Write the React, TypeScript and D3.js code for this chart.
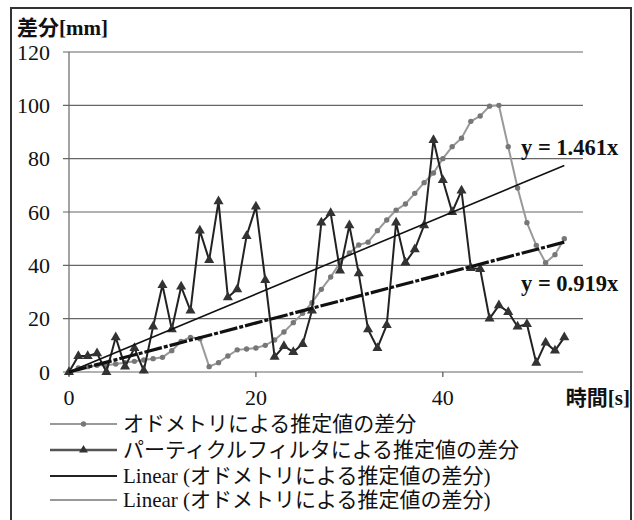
import React from "react";
import * as d3 from "d3";

const times: number[] = d3.range(0, 54);
const odometry: number[] = [
  0, 1.5, 2, 2.5, 2.5, 3, 3.5, 4, 4.5, 5, 5.5, 8, 11.5, 13, 12.5, 2, 3.5, 6, 8.3, 8.6,
  9, 10, 12, 15, 18.5, 22, 26, 31, 35.6, 41, 44.6, 47.6, 48.7, 53, 57, 60.7, 63, 67, 71, 74.6,
  80, 84.5, 87.7, 94, 96, 99.7, 100, 84.5, 69, 56, 47.5, 41, 44, 50,
];
const particle: number[] = [
  0, 6, 6, 7, 0, 13, 2, 9, 0.5, 17, 32.6, 16, 32, 23, 53, 42, 64, 28, 31, 51,
  62, 34.5, 5.7, 9.7, 7.5, 10.5, 23, 56, 59.6, 38, 55, 37, 16, 9, 17.6, 56, 41, 46, 55, 87,
  72, 60, 68, 39, 38.6, 20, 25, 22.5, 17, 18, 3.4, 11, 8, 13,
];
const trendSlopes: number[] = [1.461, 0.919];
const trendLabels: string[] = ["y = 1.461x", "y = 0.919x"];
const yTicks: number[] = [0, 20, 40, 60, 80, 100, 120];
const xTicks: number[] = [0, 20, 40];
const yTitle = "差分[mm]";
const xTitle = "時間[s]";
const legendLabels: string[] = [
  "オドメトリによる推定値の差分",
  "パーティクルフィルタによる推定値の差分",
  "Linear (オドメトリによる推定値の差分)",
  "Linear (オドメトリによる推定値の差分)",
];

const W = 634;
const H = 520;
const FONT = "'Liberation Serif', 'DejaVu Serif', 'Noto Sans CJK JP', serif";

export default function App() {
  const x = d3.scaleLinear().domain([0, 55]).range([69, 583]);
  const y = d3.scaleLinear().domain([0, 120]).range([372, 52]);

  const line = d3
    .line<number>()
    .x((_, i) => x(times[i]))
    .y((d) => y(d));

  const tMax = times[times.length - 1];
  const tri = d3.symbol().type(d3.symbolTriangle).size(44)() as string;
  const triSmall = d3.symbol().type(d3.symbolTriangle).size(34)() as string;

  const legendY = [424, 450, 476, 500];
  const lx0 = 50;
  const lx1 = 117;
  const txt = { fontFamily: FONT, fill: "#111" } as React.CSSProperties;

  return (
    <svg
      width={W}
      height={H}
      style={{ position: "absolute", left: 0, top: 0, background: "#fff" }}
    >
      <rect x={0} y={0} width={W} height={H} fill="#fff" />
      <rect x={11} y={8} width={620} height={520} fill="none" stroke="#333" strokeWidth={2} />

      {/* gridlines */}
      {yTicks.map((t) => (
        <line key={"g" + t} x1={63} x2={x(55)} y1={y(t)} y2={y(t)} stroke="#666" strokeWidth={1.2} />
      ))}
      {/* y axis */}
      <line x1={x(0)} x2={x(0)} y1={y(120)} y2={y(0) + 4} stroke="#666" strokeWidth={1.2} />
      {xTicks.map((t) => (
        <line key={"xt" + t} x1={x(t)} x2={x(t)} y1={y(0)} y2={y(0) + 5} stroke="#555" strokeWidth={1.2} />
      ))}

      {/* y tick labels */}
      {yTicks.map((t) => (
        <text key={"yl" + t} x={50} y={y(t)} dy="0.35em" textAnchor="end" fontSize={22} style={txt}>
          {t}
        </text>
      ))}
      <text x={17} y={35} fontSize={21} fontWeight="bold" style={txt}>
        {yTitle}
      </text>

      {/* x tick labels */}
      {xTicks.map((t) => (
        <text key={"xl" + t} x={x(t)} y={405} textAnchor="middle" fontSize={22} style={txt}>
          {t}
        </text>
      ))}
      <text x={630} y={405} textAnchor="end" fontSize={21} fontWeight="bold" style={txt}>
        {xTitle}
      </text>

      {/* odometry series */}
      <path d={line(odometry) || ""} fill="none" stroke="#999" strokeWidth={2} />
      {odometry.map((v, i) => (
        <circle key={"o" + i} cx={x(times[i])} cy={y(v)} r={2.7} fill="#777" />
      ))}

      {/* particle filter series */}
      <path d={line(particle) || ""} fill="none" stroke="#222" strokeWidth={2} />
      {particle.map((v, i) => (
        <path key={"p" + i} d={tri} transform={`translate(${x(times[i])},${y(v)})`} fill="#333" />
      ))}

      {/* trendlines */}
      <line
        x1={x(0)}
        y1={y(0)}
        x2={x(tMax)}
        y2={y(trendSlopes[0] * tMax)}
        stroke="#111"
        strokeWidth={1.6}
      />
      <line
        x1={x(0)}
        y1={y(0)}
        x2={x(tMax)}
        y2={y(trendSlopes[1] * tMax)}
        stroke="#111"
        strokeWidth={3.2}
        strokeDasharray="18,2,4,2"
      />
      <text x={521} y={147} dy="0.35em" fontSize={22.5} fontWeight="bold" style={txt}>
        {trendLabels[0]}
      </text>
      <text x={521} y={283} dy="0.35em" fontSize={22.5} fontWeight="bold" style={txt}>
        {trendLabels[1]}
      </text>

      {/* legend */}
      <line x1={lx0} x2={lx1} y1={legendY[0]} y2={legendY[0]} stroke="#999" strokeWidth={2} />
      <circle cx={(lx0 + lx1) / 2} cy={legendY[0]} r={2.7} fill="#777" />
      <line x1={lx0} x2={lx1} y1={legendY[1]} y2={legendY[1]} stroke="#555" strokeWidth={2.6} />
      <path d={triSmall} transform={`translate(${(lx0 + lx1) / 2},${legendY[1]})`} fill="#333" />
      <line x1={lx0} x2={lx1} y1={legendY[2]} y2={legendY[2]} stroke="#222" strokeWidth={1.8} />
      <line x1={lx0} x2={lx1} y1={legendY[3]} y2={legendY[3]} stroke="#333" strokeWidth={1.2} />
      {legendLabels.map((s, i) => (
        <text key={"lg" + i} x={123} y={legendY[i]} dy="0.35em" fontSize={21} style={txt}>
          {s}
        </text>
      ))}
    </svg>
  );
}
